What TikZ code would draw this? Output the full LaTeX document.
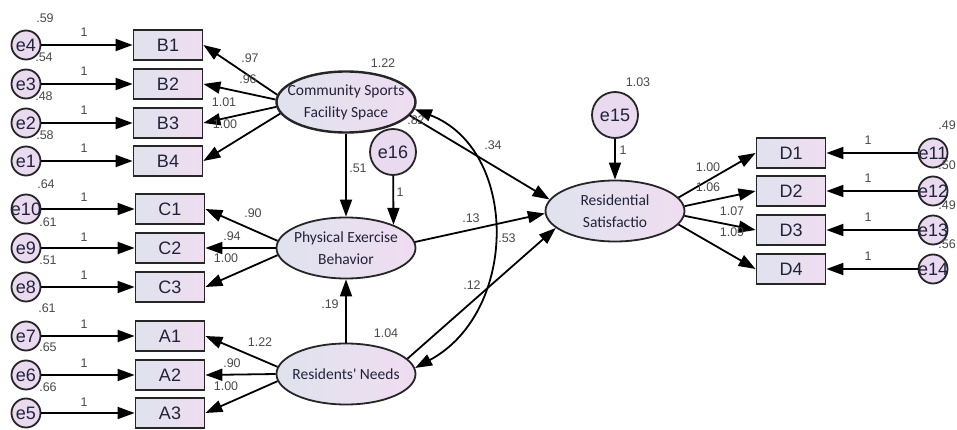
\documentclass[tikz,border=0pt]{standalone}
\usepackage{fontspec}
\setmainfont{Liberation Sans}
\newfontfamily\latfont{Carlito}
\usetikzlibrary{arrows.meta,shapes.geometric}

\definecolor{edge}{HTML}{262626}
\definecolor{boxl}{HTML}{DFE3EE}
\definecolor{boxr}{HTML}{EFDDF0}
\definecolor{errfill}{HTML}{E9DAEF}
\definecolor{numc}{HTML}{4A4A4A}
\definecolor{lattxt}{HTML}{22223A}

\begin{document}
\begin{tikzpicture}[x=1pt, y=-1pt, >={Triangle[length=17pt,width=12pt]}, line width=1.8pt]

  % Styles
  \tikzset{
    obs/.style={draw=edge, rectangle, minimum width=69pt, minimum height=30pt, inner sep=0pt,
      left color=boxl, right color=boxr, font=\fontsize{18}{18}\selectfont, text=lattxt},
    err/.style={draw=edge, circle, minimum size=29pt, inner sep=-2pt, fill=errfill,
      font=\fontsize{18}{18}\selectfont, text=lattxt},
    bigerr/.style={err, minimum size=46pt},
    lat/.style={draw=edge, ellipse, minimum width=139pt, minimum height=61pt, inner sep=0pt,
      left color=boxl, right color=boxr},
    lattext/.style={align=center, font=\latfont\fontsize{15.5}{22}\selectfont, text=lattxt},
    num/.style={inner sep=0pt, font=\fontsize{12.5}{13}\selectfont, text=numc}
  }

  \path[use as bounding box, fill=white] (0,0) rectangle (957,430);

  % Latent variables
  \node[lat, line width=2.4pt, label={[lattext]center:{Community Sports\\Facility Space}}] (csfs) at (346,102) {};
  \node[lat, label={[lattext]center:{Physical Exercise\\Behavior}}] (peb) at (346,248) {};
  \node[lat, label={[lattext]center:{Residents' Needs}}] (rn) at (346,374) {};
  \node[lat, label={[lattext]center:{Residential\\Satisfactio}}] (rs) at (615,211) {};

  \node[bigerr] (e16) at (393,152) {e16};
  \node[bigerr] (e15) at (615,115) {e15};

  % Indicators B
  \node[obs] (B1) at (168,45) {B1};
  \node[obs] (B2) at (168,84) {B2};
  \node[obs] (B3) at (168,123) {B3};
  \node[obs] (B4) at (168,161) {B4};
  \node[err] (e4) at (26,45) {e4};
  \node[err] (e3) at (26,84) {e3};
  \node[err] (e2) at (26,123) {e2};
  \node[err] (e1) at (26,161) {e1};

  % Indicators C
  \node[obs] (C1) at (170,209) {C1};
  \node[obs] (C2) at (170,248) {C2};
  \node[obs] (C3) at (170,287) {C3};
  \node[err] (e10) at (26,209) {e10};
  \node[err] (e9) at (26,248) {e9};
  \node[err] (e8) at (26,287) {e8};

  % Indicators A
  \node[obs] (A1) at (170,336) {A1};
  \node[obs] (A2) at (170,375) {A2};
  \node[obs] (A3) at (170,413) {A3};
  \node[err] (e7) at (26,336) {e7};
  \node[err] (e6) at (26,375) {e6};
  \node[err] (e5) at (26,413) {e5};

  % Indicators D
  \node[obs] (D1) at (791,153) {D1};
  \node[obs] (D2) at (791,191) {D2};
  \node[obs] (D3) at (791,230) {D3};
  \node[obs] (D4) at (791,269) {D4};
  \node[err] (e11) at (933,153) {e11};
  \node[err] (e12) at (933,191) {e12};
  \node[err] (e13) at (933,230) {e13};
  \node[err] (e14) at (933,269) {e14};

  % Error terms into indicators
  \draw[->] (e4) -- (B1);
  \draw[->] (e3) -- (B2);
  \draw[->] (e2) -- (B3);
  \draw[->] (e1) -- (B4);
  \draw[->] (e10) -- (C1);
  \draw[->] (e9) -- (C2);
  \draw[->] (e8) -- (C3);
  \draw[->] (e7) -- (A1);
  \draw[->] (e6) -- (A2);
  \draw[->] (e5) -- (A3);
  \draw[->] (e11) -- (D1);
  \draw[->] (e12) -- (D2);
  \draw[->] (e13) -- (D3);
  \draw[->] (e14) -- (D4);

  % Loadings
  \draw[->] (csfs.174) -- (B1.east);
  \draw[->] (csfs.178) -- (B2.east);
  \draw[->] (csfs.184) -- (B3.east);
  \draw[->] (csfs.190) -- (B4.east);
  \draw[->] (peb.174) -- (C1.east);
  \draw[->] (peb.180) -- (C2.east);
  \draw[->] (peb.186) -- (C3.east);
  \draw[->] (rn.174) -- (A1.east);
  \draw[->] (rn.180) -- (A2.east);
  \draw[->] (rn.186) -- (A3.east);
  \draw[->] (rs.12) -- (D1.west);
  \draw[->] (rs.4) -- (D2.west);
  \draw[->] (rs.-4) -- (D3.west);
  \draw[->] (rs.-12) -- (D4.west);

  % Structural paths
  \draw[->] (csfs) -- (peb);
  \draw[->] (rn) -- (peb);
  \draw[->] (e16) -- (peb.26);
  \draw[->] (e15) -- (rs);
  \draw[->] (csfs.-12) -- (rs.170);
  \draw[->] (peb.5) -- (rs.182);
  \draw[->] (rn.14) -- (rs.196);
  \draw[<->] (csfs.-6) .. controls +(104,40) and +(104,-56) .. (rn.5);

  % Variances
  \node[num] (v59) at (45,18) {.59};
  \node[num] (v54) at (44,57) {.54};
  \node[num] (v48) at (44,96) {.48};
  \node[num] (v58) at (45,135) {.58};
  \node[num] (v64) at (46,184) {.64};
  \node[num] (v61a) at (48,222) {.61};
  \node[num] (v51) at (48,260) {.51};
  \node[num] (v61b) at (47,308) {.61};
  \node[num] (v65) at (48,347) {.65};
  \node[num] (v66) at (48,387) {.66};
  \node[num] (v122) at (383,63) {1.22};
  \node[num] (v104) at (386,333) {1.04};
  \node[num] (v103) at (638,82) {1.03};
  \node[num] (v82) at (416,120) {.82};
  \node[num] (v49a) at (947,125) {.49};
  \node[num] (v50) at (947,165) {.50};
  \node[num] (v49b) at (947,205) {.49};
  \node[num] (v56) at (947,244) {.56};

  % Fixed weights
  \node[num] (w1) at (84,32) {1};
  \node[num] (w2) at (84,71) {1};
  \node[num] (w3) at (84,110) {1};
  \node[num] (w4) at (84,148) {1};
  \node[num] (w5) at (84,197) {1};
  \node[num] (w6) at (84,237) {1};
  \node[num] (w7) at (84,275) {1};
  \node[num] (w8) at (84,324) {1};
  \node[num] (w9) at (84,363) {1};
  \node[num] (w10) at (84,402) {1};
  \node[num] (w11) at (868,140) {1};
  \node[num] (w12) at (868,178) {1};
  \node[num] (w13) at (868,217) {1};
  \node[num] (w14) at (868,256) {1};
  \node[num] (w15) at (623,150) {1};
  \node[num] (w16) at (400,192) {1};

  % Estimates
  \node[num] (lb1) at (250,58) {.97};
  \node[num] (lb2) at (248,79) {.96};
  \node[num] (lb3) at (224,102) {1.01};
  \node[num] (lb4) at (225,124) {1.00};
  \node[num] (lc1) at (253,213) {.90};
  \node[num] (lc2) at (232,236) {.94};
  \node[num] (lc3) at (226,258) {1.00};
  \node[num] (la1) at (260,342) {1.22};
  \node[num] (la2) at (232,363) {.90};
  \node[num] (la3) at (226,386) {1.00};
  \node[num] (ld1) at (708,167) {1.00};
  \node[num] (ld2) at (708,187) {1.06};
  \node[num] (ld3) at (732,211) {1.07};
  \node[num] (ld4) at (732,232) {1.09};
  \node[num] (p51) at (358,168) {.51};
  \node[num] (p19) at (330,304) {.19};
  \node[num] (p34) at (493,145) {.34};
  \node[num] (p13) at (471,218) {.13};
  \node[num] (c53) at (507,238) {.53};
  \node[num] (p12) at (472,285) {.12};

\end{tikzpicture}
\end{document}
